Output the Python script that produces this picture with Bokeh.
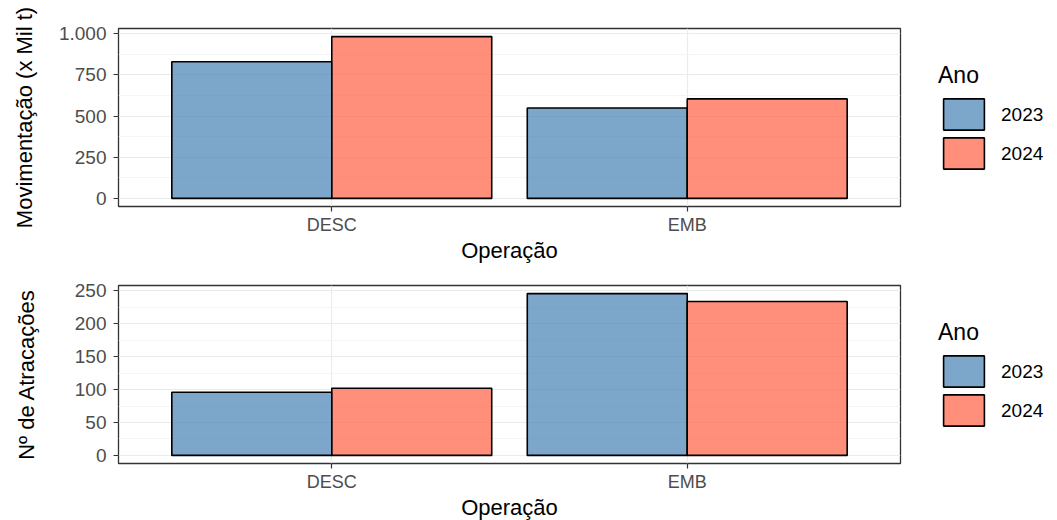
from bokeh.plotting import figure
from bokeh.models import Range1d, FixedTicker, Legend, LegendItem, ColumnDataSource
from bokeh.layouts import column
from bokeh.embed import file_html
from bokeh.resources import INLINE

# ---- data ----
operacoes = ["DESC", "EMB"]
anos = ["2023", "2024"]
mov_2023 = [829, 549]
mov_2024 = [982, 604]
atr_2023 = [96, 246]
atr_2024 = [102, 234]
mov_ticks = [0, 250, 500, 750, 1000]
mov_minor = [125, 375, 625, 875]
atr_ticks = [0, 50, 100, 150, 200, 250]
atr_minor = [25, 75, 125, 175, 225]

FONT = "Liberation Sans"
FILLS = ["steelblue", "tomato"]
ALPHAS = [0.7, 0.72]


def fmt_pt(v):
    # Brazilian thousands separator: 1.000
    return f"{v:,}".replace(",", ".")


def make_panel(v23, v24, ylabel, ticks, minor, top_border, ylab_standoff):
    n = len(operacoes)
    pos = [i + 1 for i in range(n)]
    vmax = max(v23 + v24)
    pad = 0.05 * vmax
    p = figure(frame_width=782, frame_height=178,
               x_range=Range1d(0.4, n + 0.6), y_range=Range1d(-pad, vmax + pad),
               output_backend="svg", toolbar_location=None,
               min_border_left=118, min_border_right=155,
               min_border_top=top_border, min_border_bottom=56)
    p.background_fill_color = "white"
    p.border_fill_color = "white"
    p.outline_line_color = "#333333"
    p.outline_line_width = 1.3

    width = 0.45
    renderers = []
    for k, vals in enumerate([v23, v24]):
        off = (k - 0.5) * width
        src = ColumnDataSource(dict(x=[q + off for q in pos], top=vals))
        r = p.vbar(x="x", top="top", bottom=0, width=width, source=src,
                   fill_color=FILLS[k], fill_alpha=ALPHAS[k],
                   line_color="black", line_width=1.6)
        renderers.append(r)

    # x axis
    p.xaxis.ticker = FixedTicker(ticks=pos)
    p.xaxis.major_label_overrides = {q: op for q, op in zip(pos, operacoes)}
    p.xaxis.axis_label = "Operação"
    p.xaxis.axis_label_text_font = FONT
    p.xaxis.axis_label_text_font_size = "22px"
    p.xaxis.axis_label_text_font_style = "normal"
    p.xaxis.axis_label_text_color = "black"
    p.xaxis.axis_label_standoff = 0
    p.xaxis.major_label_standoff = 3
    p.xaxis.major_label_text_font_size = "18px"
    # y axis
    p.yaxis.ticker = FixedTicker(ticks=ticks, minor_ticks=minor)
    p.yaxis.major_label_overrides = {t: fmt_pt(t) for t in ticks}
    p.yaxis.axis_label = ylabel
    p.yaxis.axis_label_text_font = FONT
    p.yaxis.axis_label_text_font_size = "22px"
    p.yaxis.axis_label_text_font_style = "normal"
    p.yaxis.axis_label_text_color = "black"
    p.yaxis.axis_label_standoff = ylab_standoff
    p.yaxis.major_label_standoff = 7
    p.yaxis.major_label_text_font_size = "19px"
    for ax in (p.xaxis, p.yaxis):
        ax.axis_line_color = None
        ax.major_tick_line_color = "#333333"
        ax.major_tick_line_width = 1.2
        ax.major_tick_out = 5
        ax.major_tick_in = 0
        ax.minor_tick_line_color = None
        ax.major_label_text_font = FONT
        ax.major_label_text_color = "#4D4D4D"

    # grids
    p.xgrid.ticker = FixedTicker(ticks=pos)
    p.ygrid.ticker = FixedTicker(ticks=ticks, minor_ticks=minor)
    p.xgrid.grid_line_color = "#EBEBEB"
    p.xgrid.grid_line_width = 1.2
    p.ygrid.grid_line_color = "#EBEBEB"
    p.ygrid.grid_line_width = 1.2
    p.ygrid.minor_grid_line_color = "#F2F2F2"
    p.ygrid.minor_grid_line_width = 0.8

    legend = Legend(items=[LegendItem(label=a, renderers=[r]) for a, r in zip(anos, renderers)],
                    location="center_left", orientation="vertical")
    legend.title = "Ano"
    legend.title_text_font = FONT
    legend.title_text_font_size = "23px"
    legend.title_text_font_style = "normal"
    legend.title_text_color = "black"
    legend.title_standoff = 6
    legend.label_text_font = FONT
    legend.label_text_font_size = "19px"
    legend.label_text_color = "black"
    legend.glyph_width = 51
    legend.glyph_height = 39
    legend.label_standoff = 12
    legend.spacing = -5
    legend.padding = 10
    legend.margin = 38
    legend.border_line_color = None
    legend.background_fill_alpha = 0
    p.add_layout(legend, "right")
    return p


p1 = make_panel(mov_2023, mov_2024, "Movimentação (x Mil t)", mov_ticks, mov_minor, 28, 19)
p2 = make_panel(atr_2023, atr_2024, "Nº de Atracações", atr_ticks, atr_minor, 20, 33)
layout = column(p1, p2, spacing=0)

open("out.html", "w").write(file_html(layout, INLINE))
